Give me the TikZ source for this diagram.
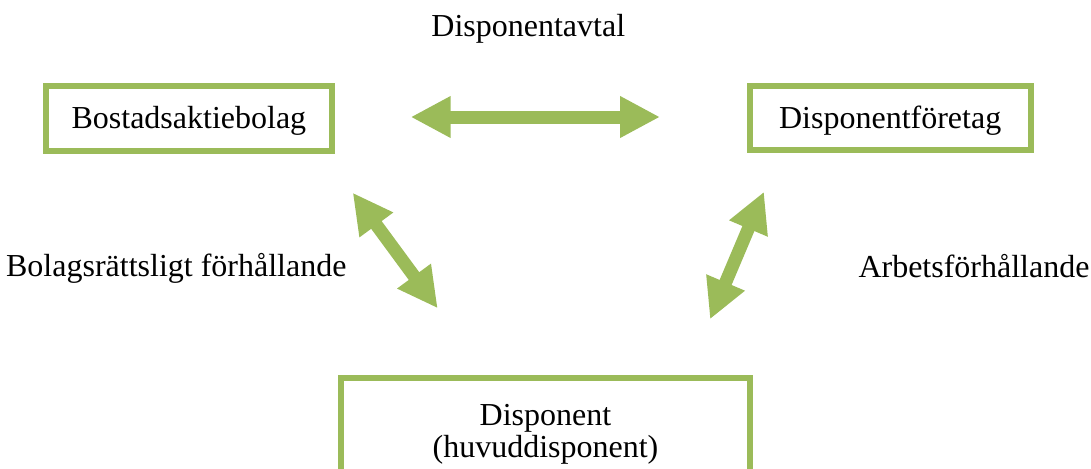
\documentclass[tikz,border=0pt]{standalone}
\usepackage{fontspec}
\setmainfont{Liberation Serif}
\usetikzlibrary{arrows.meta}
\definecolor{olive}{RGB}{155,187,89}
\tikzset{
  lbl/.style={inner sep=0pt, anchor=base, font=\fontsize{24pt}{28pt}\selectfont},
  greenbox/.style={draw=olive, line width=4.5pt, inner sep=0pt, font=\fontsize{24pt}{28pt}\selectfont, text height=17.5pt, text depth=2.5pt},
  bigarrow/.style={draw=olive, fill=olive, line width=9.75pt, {Triangle[length=30pt,width=29.25pt]}-{Triangle[length=30pt,width=29.25pt]}}
}
\begin{document}
\begin{tikzpicture}[x=0.75pt,y=-0.75pt]
\useasboundingbox (0,0) rectangle (1091,468);
% labels
\node[lbl] (avtal) at (528.3,36.7) {Disponentavtal};
\node[lbl] (bolag) at (176.3,276) {Bolagsrättsligt förhållande};
\node[lbl] (arbets) at (974,277) {Arbetsförhållande};
% boxes
\node[greenbox, minimum width=214.7pt, minimum height=48.75pt] (bab) at (188.9,118.8) {Bostadsaktiebolag};
\node[greenbox, minimum width=210.75pt, minimum height=48pt] (dfo) at (890.2,118.3) {Disponentföretag};
\node[greenbox, anchor=north, minimum width=306.75pt, minimum height=112.5pt] (disp) at (545.5,375) {};
\node[lbl] (disp1) at (545.5,425) {Disponent};
\node[lbl] (disp2) at (545.5,457) {(huvuddisponent)};
% arrow ends
\coordinate (h1) at (410.7,117);
\coordinate (h2) at (660,117);
\coordinate (l1) at (352.7,192.7);
\coordinate (l2) at (437.7,308.3);
\coordinate (r1) at (764,191.7);
\coordinate (r2) at (710,319.3);
\draw[bigarrow] (h1) -- (h2);
\draw[bigarrow] (l1) -- (l2);
\draw[bigarrow] (r1) -- (r2);
\end{tikzpicture}
\end{document}
